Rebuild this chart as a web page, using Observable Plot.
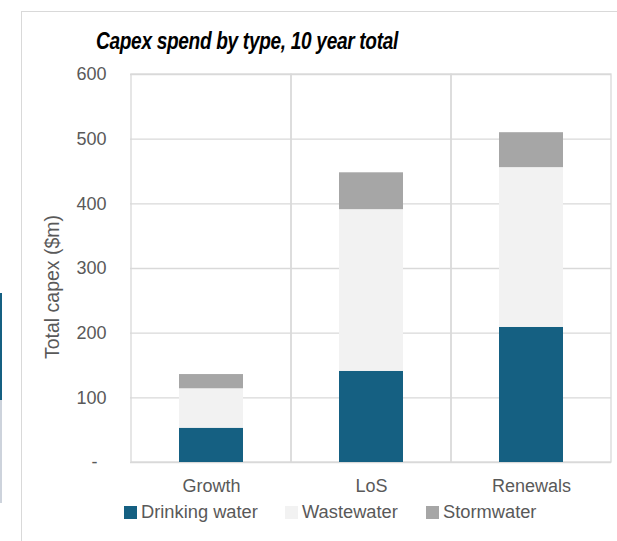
<!DOCTYPE html>
<html>
<head>
<meta charset="utf-8">
<script src="https://cdn.jsdelivr.net/npm/d3@7"></script>
<script src="https://cdn.jsdelivr.net/npm/@observablehq/plot@0.6"></script>
<style>
  html, body { margin: 0; padding: 0; background: #fff; }
  #wrap { position: relative; width: 617px; height: 541px; overflow: hidden; font-family: "Liberation Sans", Arial, sans-serif; }
  #frameTop { position: absolute; left: 22px; top: 11px; width: 600px; height: 0; border-top: 1.5px solid #d9d9d9; }
  #frameLeft { position: absolute; left: 21px; top: 11px; width: 0; height: 540px; border-left: 1.5px solid #d9d9d9; }
  #stripeBlue { position: absolute; left: 0; top: 293px; width: 1.5px; height: 107px; background: #156082; }
  #stripeGray { position: absolute; left: 0; top: 400px; width: 1.5px; height: 103px; background: #cdd3dc; }
  #title { position: absolute; left: 96px; top: 29px; font: italic bold 24px "Liberation Sans", Arial, sans-serif; line-height: 1; color: #000; white-space: nowrap; transform-origin: 0 0; letter-spacing: -0.4px; }
  #ylabel { position: absolute; left: 53px; top: 287px; transform: translate(-50%, -50%) rotate(-90deg); font-size: 19.5px; color: #595959; white-space: nowrap; line-height: 1; }
  #chart { position: absolute; left: 0; top: 0; }
  #legend { position: absolute; left: 0; top: 0; width: 617px; height: 541px; pointer-events: none; }
  .li { position: absolute; top: 502px; display: flex; align-items: center; font-size: 18.3px; color: #595959; line-height: 20px; white-space: nowrap; }
  .sw { width: 13px; height: 13px; margin-right: 4px; }
</style>
</head>
<body>
<div id="wrap">
  <div id="frameTop"></div>
  <div id="frameLeft"></div>
  <div id="stripeBlue"></div>
  <div id="stripeGray"></div>
  <div id="chart"></div>
  <div id="title">Capex spend by type, 10 year total</div>
  <div id="ylabel">Total capex ($m)</div>
  <div id="legend"></div>
</div>
<script>
// ---- Data ----
const categories = ["Growth", "LoS", "Renewals"];
const types = ["Drinking water", "Wastewater", "Stormwater"];
const drinkingWater = [53, 141, 209];
const wastewater = [61, 250, 247];
const stormwater = [22, 57, 54];
const yTicks = [0, 100, 200, 300, 400, 500, 600];
const colors = ["#156082", "#f2f2f2", "#a6a6a6"];

const series = [drinkingWater, wastewater, stormwater];
const rows = [];
categories.forEach((c, i) => {
  types.forEach((t, j) => rows.push({cat: c, type: t, value: series[j][i]}));
});
const yMax = yTicks[yTicks.length - 1];

const chart = Plot.plot({
  width: 617,
  height: 541,
  marginTop: 74,
  marginBottom: 79,
  marginLeft: 130,
  marginRight: 6,
  style: {fontFamily: '"Liberation Sans", Arial, sans-serif', color: "#595959", background: "transparent", overflow: "visible"},
  x: {domain: categories, padding: 0, label: null},
  y: {domain: [0, yMax], label: null},
  color: {domain: types, range: colors},
  marks: [
    Plot.ruleY(yTicks, {stroke: "#d9d9d9", strokeWidth: 1.3}),
    Plot.barY(categories, {x: d => d, y1: () => 0, y2: () => yMax, fill: "none", stroke: "#d9d9d9", strokeWidth: 1.3}),
    Plot.barY(rows, {x: "cat", y: "value", fill: "type", insetLeft: 48, insetRight: 48}),
    Plot.axisY({ticks: yTicks, tickSize: 0, tickPadding: 24, fontSize: 18, label: null,
      tickFormat: d => d === 0 ? "-\u2002" : String(d)}),
    Plot.axisX({tickSize: 0, tickPadding: 17, fontSize: 18, label: null})
  ]
});
document.getElementById("chart").appendChild(chart);

// condense the title to match the narrow face of the original
const title = document.getElementById("title");
const w = title.getBoundingClientRect().width;
if (w > 0) title.style.transform = `scaleX(${302 / w})`;

// ---- Legend ----
const legendX = [124, 285, 426];
const legend = document.getElementById("legend");
types.forEach((t, i) => {
  const item = document.createElement("div");
  item.className = "li";
  item.style.left = legendX[i] + "px";
  const sw = document.createElement("span");
  sw.className = "sw";
  sw.style.background = colors[i];
  const label = document.createElement("span");
  label.textContent = t;
  item.appendChild(sw);
  item.appendChild(label);
  legend.appendChild(item);
});
</script>
</body>
</html>
